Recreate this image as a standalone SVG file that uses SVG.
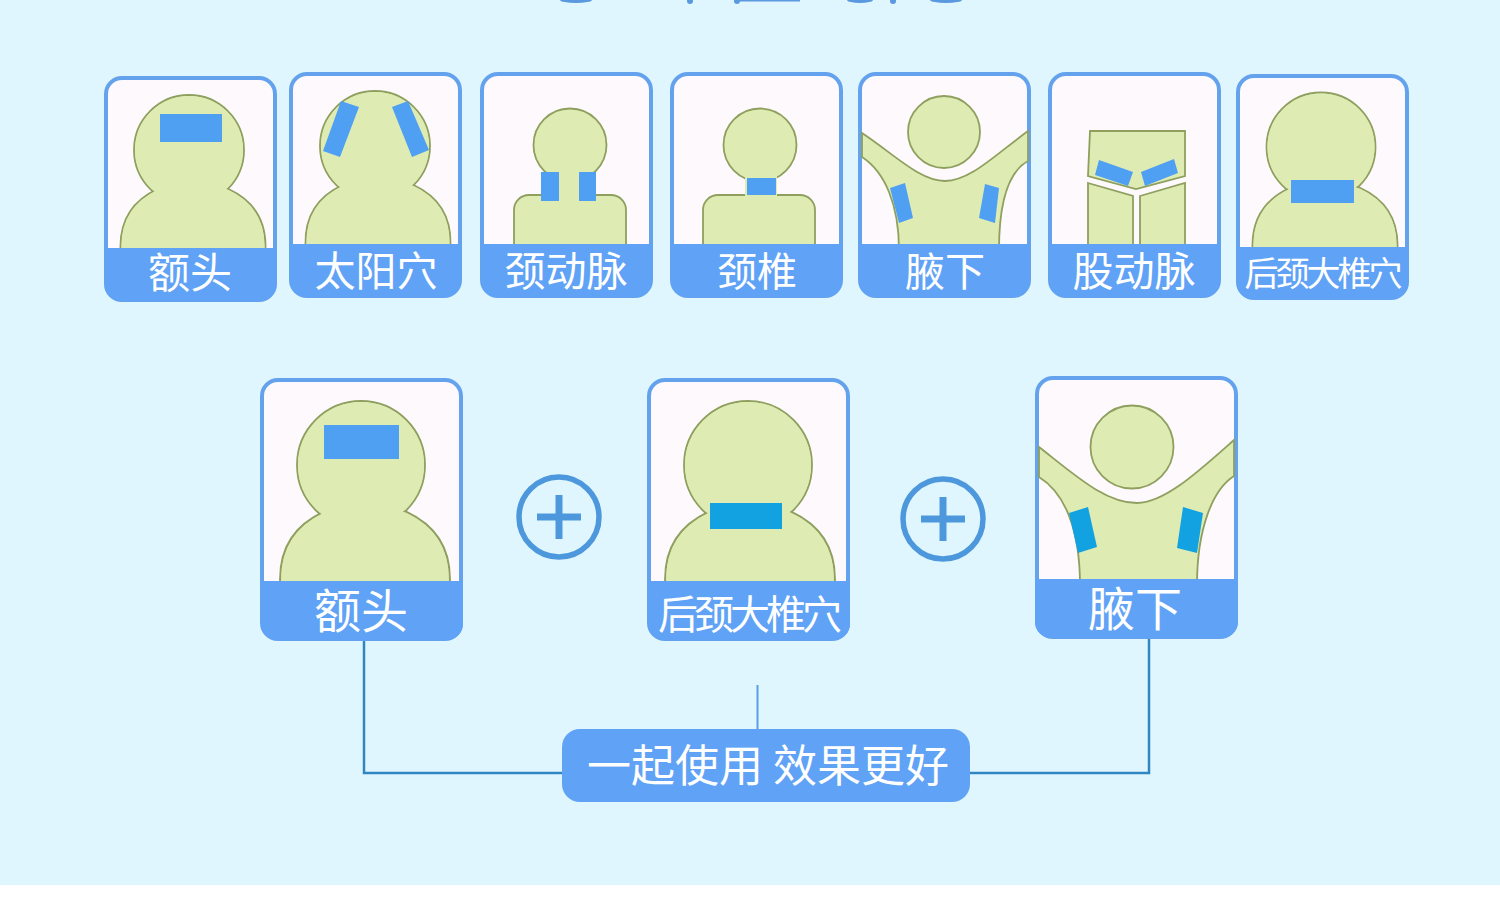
<svg xmlns="http://www.w3.org/2000/svg" width="1500" height="919" viewBox="0 0 1500 919">
<style>
.card{fill:#fdf9fc;stroke:#64a2ee;stroke-width:4}
.band{fill:#5fa2f6}
.skin{fill:#deecb4;stroke:#8f9f5e;stroke-width:1.8}
.fillonly{fill:#deecb4;stroke:none}
.patch{fill:#4f9ff2}
.patch2{fill:#12a2e2}
.lbl{font-family:"Noto Sans CJK SC","Noto Sans",sans-serif;fill:#fff;text-anchor:middle;font-weight:400}
.conn{fill:none;stroke:#2f86c0;stroke-width:2.5}
.conn2{fill:none;stroke:#5a9ee8;stroke-width:2}
.plus{fill:none;stroke:#4d98dc;stroke-width:5.5}
.bar{stroke:#4d98dc;stroke-width:7}
.title{fill:#5a98e0}
</style>
<defs>
<path id="shoulders" d="M-72.500 0C-73 -26 -61.500 -47 -35.500 -59Q0 -72 35.500 -59C61.500 -47 73 -26 72.500 0"/>
</defs>
<rect x="0" y="0" width="1500" height="885" fill="#e0f6fe"/>
<rect x="0" y="885" width="1500" height="34" fill="#ffffff"/>
<g id="title-fragment">
<ellipse class="title" cx="576" cy="0" rx="16" ry="3"/>
<ellipse class="title" cx="690" cy="1" rx="3" ry="3"/>
<ellipse class="title" cx="737" cy="1" rx="3" ry="3"/>
<rect class="title" x="737" y="0" width="63" height="1.500"/>
<ellipse class="title" cx="860" cy="0" rx="13" ry="3"/>
<ellipse class="title" cx="893" cy="1" rx="3" ry="3"/>
<ellipse class="title" cx="946" cy="0" rx="16" ry="3"/>
</g>
<g id="connectors">
<path class="conn" d="M364 640V773H563"/>
<path class="conn" d="M1149 638V773H970"/>
<path class="conn2" d="M757.500 685V729"/>
</g>
<g id="card-forehead">
<rect class="card" x="106" y="78" width="169" height="222" rx="16"/>
<circle class="skin" cx="189" cy="150" r="55"/>
<use href="#shoulders" class="skin" transform="translate(193 248)"/>
<circle class="fillonly" cx="189" cy="150" r="54"/>
<use href="#shoulders" class="fillonly" transform="translate(193 248) scale(.985)"/>
<rect class="patch" x="160" y="114" width="62" height="28"/>
<path class="band" d="M105 248H276V285a16 16 0 0 1-16 16H121a16 16 0 0 1-16-16Z"/>
<text class="lbl" x="190" y="288" font-size="42">额头</text>
</g>
<g id="card-temple">
<rect class="card" x="291" y="74" width="169" height="222" rx="16"/>
<circle class="skin" cx="375" cy="146" r="55"/>
<use href="#shoulders" class="skin" transform="translate(378 244)"/>
<circle class="fillonly" cx="375" cy="146" r="54"/>
<use href="#shoulders" class="fillonly" transform="translate(378 244) scale(.985)"/>
<polygon class="patch" points="341,101 359,107 340,157 323,151"/>
<polygon class="patch" points="392,107 408,101 429,150 412,157"/>
<path class="band" d="M290 244H461V281a16 16 0 0 1-16 16H306a16 16 0 0 1-16-16Z"/>
<text class="lbl" x="376" y="286" font-size="41">太阳穴</text>
</g>
<g id="card-carotid">
<rect class="card" x="482" y="74" width="169" height="222" rx="16"/>
<circle class="skin" cx="570" cy="145" r="36.500"/>
<rect class="skin" x="514" y="195" width="112" height="70" rx="15"/>
<rect class="fillonly" x="550" y="175" width="40" height="22"/>
<rect class="patch" x="541" y="172" width="18" height="29"/>
<rect class="patch" x="579" y="172" width="17" height="29"/>
<path class="band" d="M481 244H652V281a16 16 0 0 1-16 16H497a16 16 0 0 1-16-16Z"/>
<text class="lbl" x="566" y="286" font-size="41">颈动脉</text>
</g>
<g id="card-cervical">
<rect class="card" x="672" y="74" width="169" height="222" rx="16"/>
<circle class="skin" cx="760" cy="145" r="36.500"/>
<rect class="skin" x="703" y="195" width="112" height="70" rx="15"/>
<rect class="fillonly" x="745" y="175" width="32" height="22"/>
<rect class="patch" x="747" y="178" width="29" height="17"/>
<path class="band" d="M671 244H842V281a16 16 0 0 1-16 16H687a16 16 0 0 1-16-16Z"/>
<text class="lbl" x="757" y="286" font-size="40">颈椎</text>
</g>
<g id="card-armpit">
<rect class="card" x="860" y="74" width="169" height="222" rx="16"/>
<circle class="skin" cx="944" cy="132" r="36"/>
<path class="skin" d="M862 133C895 155 920 181 945 181C970 181 995 155 1028 131V161C1008 172 999 205 999 250H899C899 205 885 172 862 157Z"/>
<polygon class="patch" points="890,188 905,183 913,218 899,223"/>
<polygon class="patch" points="985,184 999,188 995,223 979,218"/>
<path class="band" d="M859 244H1030V281a16 16 0 0 1-16 16H875a16 16 0 0 1-16-16Z"/>
<text class="lbl" x="945" y="286" font-size="40">腋下</text>
</g>
<g id="card-femoral">
<rect class="card" x="1050" y="74" width="169" height="222" rx="16"/>
<polygon class="skin" points="1090,131 1185,131 1185,176 1136,189 1088,176"/>
<polygon class="skin" points="1088,183 1133,196 1133,250 1088,250"/>
<polygon class="skin" points="1140,196 1185,183 1185,250 1140,250"/>
<polygon class="patch" points="1099,160 1133,172 1128,186 1095,175"/>
<polygon class="patch" points="1141,172 1174,159 1178,173 1145,186"/>
<path class="band" d="M1049 244H1220V281a16 16 0 0 1-16 16H1065a16 16 0 0 1-16-16Z"/>
<text class="lbl" x="1134" y="286" font-size="41">股动脉</text>
</g>
<g id="card-nape">
<rect class="card" x="1238" y="76" width="169" height="222" rx="16"/>
<circle class="skin" cx="1321" cy="147" r="54.500"/>
<use href="#shoulders" class="skin" transform="translate(1325 247)"/>
<circle class="fillonly" cx="1321" cy="147" r="53.500"/>
<use href="#shoulders" class="fillonly" transform="translate(1325 247) scale(.985)"/>
<rect class="patch" x="1291" y="180" width="63" height="23"/>
<path class="band" d="M1237 247H1408V283a16 16 0 0 1-16 16H1253a16 16 0 0 1-16-16Z"/>
<text class="lbl" x="1322" y="286" font-size="34" letter-spacing="-3">后颈大椎穴</text>
</g>
<g id="big-forehead">
<rect class="card" x="262" y="380" width="199" height="259" rx="16"/>
<circle class="skin" cx="361" cy="465" r="64"/>
<use href="#shoulders" class="skin" transform="translate(365 581) scale(1.170)"/>
<circle class="fillonly" cx="361" cy="465" r="63"/>
<use href="#shoulders" class="fillonly" transform="translate(365 581) scale(1.155)"/>
<rect class="patch" x="324" y="425" width="75" height="34"/>
<path class="band" d="M261 581H463V624a16 16 0 0 1-16 16H277a16 16 0 0 1-16-16Z"/>
<text class="lbl" x="361" y="628" font-size="47">额头</text>
</g>
<g id="plus-1">
<circle class="plus" cx="559" cy="517" r="40"/>
<path class="bar" d="M537 517H581M559 495V539"/>
</g>
<g id="big-nape">
<rect class="card" x="649" y="380" width="199" height="259" rx="16"/>
<circle class="skin" cx="748" cy="465" r="64"/>
<use href="#shoulders" class="skin" transform="translate(750 581) scale(1.170)"/>
<circle class="fillonly" cx="748" cy="465" r="63"/>
<use href="#shoulders" class="fillonly" transform="translate(750 581) scale(1.155)"/>
<rect class="patch2" x="710" y="503" width="72" height="26"/>
<path class="band" d="M648 581H850V624a16 16 0 0 1-16 16H664a16 16 0 0 1-16-16Z"/>
<text class="lbl" x="748" y="629" font-size="40" letter-spacing="-4">后颈大椎穴</text>
</g>
<g id="plus-2">
<circle class="plus" cx="943" cy="519" r="40"/>
<path class="bar" d="M921 519H965M943 497V541"/>
</g>
<g id="big-armpit">
<rect class="card" x="1037" y="378" width="199" height="259" rx="16"/>
<circle class="skin" cx="1132" cy="447" r="41.500"/>
<path class="skin" d="M1039 447C1075 475 1105 503 1137 503C1165 503 1200 470 1234 440V476C1212 490 1197 530 1197 585H1080C1080 530 1065 493 1039 477Z"/>
<polygon class="patch2" points="1069,513 1088,507 1097,547 1078,553"/>
<polygon class="patch2" points="1183,507 1203,513 1197,553 1177,548"/>
<path class="band" d="M1035 579H1238V622a16 16 0 0 1-16 16H1051a16 16 0 0 1-16-16Z"/>
<text class="lbl" x="1135" y="626" font-size="47">腋下</text>
</g>
<g id="pill">
<rect class="band" x="562" y="729" width="408" height="73" rx="18"/>
<text class="lbl" x="768" y="782" font-size="44">一起使用 效果更好</text>
</g>
</svg>
